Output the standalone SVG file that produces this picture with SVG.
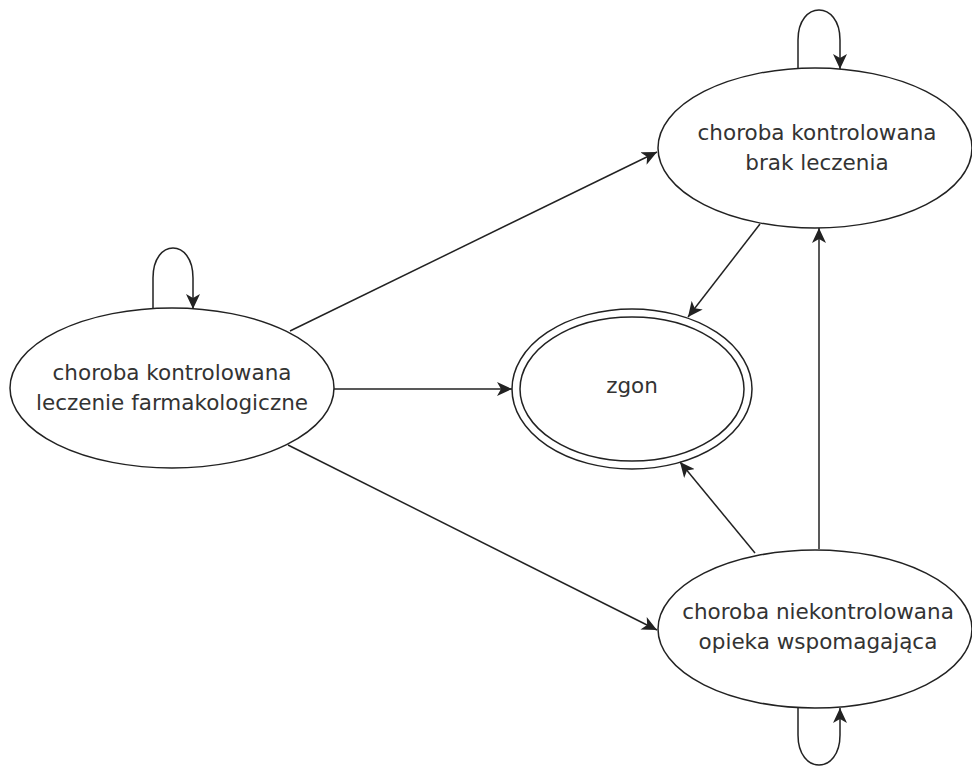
<svg xmlns="http://www.w3.org/2000/svg" width="972" height="767" viewBox="0 0 972 767">
  <style>
    .st { fill: #ffffff; stroke: #222222; stroke-width: 1.5; }
    .lbl { font-family: "DejaVu Sans", "Liberation Sans", sans-serif; font-size: 21.5px; fill: #333333; text-anchor: middle; }
    .edge { fill: none; stroke: #222222; stroke-width: 1.5; marker-end: url(#arr); }
  </style>
  <defs>
    <marker id="arr" markerUnits="userSpaceOnUse" markerWidth="16" markerHeight="14" refX="15" refY="7" orient="auto" viewBox="0 0 16 14">
      <path d="M0,0 L15,7 L0,14 L4,7 z" fill="#222222"/>
    </marker>
  </defs>
  <rect width="972" height="767" fill="#ffffff"/>

  <g id="node-tr">
    <ellipse class="st" cx="815" cy="148" rx="157" ry="80"/>
    <text class="lbl" x="817" y="140">choroba kontrolowana</text>
    <text class="lbl" x="817" y="170">brak leczenia</text>
  </g>

  <g id="node-left">
    <ellipse class="st" cx="172" cy="388" rx="162" ry="80"/>
    <text class="lbl" x="172" y="380">choroba kontrolowana</text>
    <text class="lbl" x="172" y="410">leczenie farmakologiczne</text>
  </g>

  <g id="node-zgon">
    <ellipse class="st" cx="632" cy="389" rx="120" ry="80"/>
    <ellipse class="st" cx="632" cy="389" rx="112" ry="72"/>
    <text class="lbl" x="632" y="393">zgon</text>
  </g>

  <g id="node-br">
    <ellipse class="st" cx="815" cy="629" rx="157" ry="79"/>
    <text class="lbl" x="818" y="619">choroba niekontrolowana</text>
    <text class="lbl" x="818" y="649">opieka wspomagająca</text>
  </g>

  <g id="connectors">
    <path class="edge" d="M798,68 L798,40 C798,0 840,0 840,40 L840,69"/>
    <path class="edge" d="M153,308 L153,278 C153,238 193,238 193,278 L193,309"/>
    <path class="edge" d="M798,708 L798,735 C798,775 840,775 840,735 L840,708"/>
    <path class="edge" d="M290,331 L657,152"/>
    <path class="edge" d="M334,389 L512,389"/>
    <path class="edge" d="M288,445 L657,630"/>
    <path class="edge" d="M760,224 L688,317"/>
    <path class="edge" d="M755,553 L680,462"/>
    <path class="edge" d="M819,549 L819,228"/>
  </g>
</svg>
